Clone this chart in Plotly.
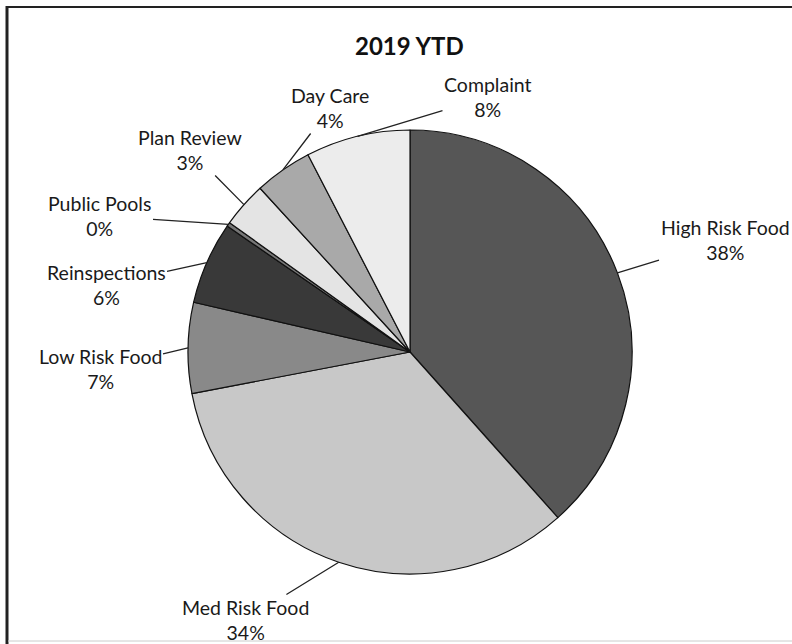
import math
import plotly.graph_objects as go

# ---- data ----
categories = ["High Risk Food", "Med Risk Food", "Low Risk Food", "Reinspections",
              "Public Pools", "Plan Review", "Day Care", "Complaint"]
shares = [38.4, 33.6, 6.6, 6.0, 0.3, 3.3, 4.2, 7.6]
colors = ["#565656", "#c8c8c8", "#898989", "#393939",
          "#777777", "#e4e4e4", "#a9a9a9", "#ececec"]
# label centre positions (pixels) for the outside labels
label_pos = {
    "High Risk Food": (725, 240),
    "Med Risk Food": (245, 620),
    "Low Risk Food": (100, 369),
    "Reinspections": (106, 285),
    "Public Pools": (100, 216),
    "Plan Review": (190, 150),
    "Day Care": (330, 108),
    "Complaint": (488, 97),
}

W, H = 792, 644
CX, CY, R = 410, 352, 222
FONT = "Lato, Open Sans, sans-serif"

fig = go.Figure()
fig.add_trace(go.Pie(
    labels=categories,
    values=shares,
    sort=False,
    direction="clockwise",
    rotation=0,
    marker=dict(colors=colors, line=dict(color="#111111", width=1.2)),
    textinfo="none",
    hoverinfo="label+percent",
    showlegend=False,
    domain=dict(x=[(CX - R) / W, (CX + R) / W], y=[(H - CY - R) / H, (H - CY + R) / H]),
))

total = sum(shares)
cum = 0.0
annotations = []
for cat, v in zip(categories, shares):
    mid = (cum + v / 2) / total * 2 * math.pi
    cum += v
    tx = CX + R * math.sin(mid)
    ty = CY - R * math.cos(mid)
    lx, ly = label_pos[cat]
    pct = round(v / total * 100)
    annotations.append(dict(
        x=tx / W, y=1 - ty / H, xref="paper", yref="paper",
        ax=lx - tx, ay=ly - ty, axref="pixel", ayref="pixel",
        text=f"{cat}<br>{pct}%",
        showarrow=True, arrowhead=0, arrowwidth=1.3, arrowcolor="#222222",
        standoff=0, startstandoff=0,
        font=dict(family=FONT, size=19.5, color="#1a1a1a"),
        align="center",
    ))

annotations.append(dict(
    x=410 / W, y=1 - 46 / H, xref="paper", yref="paper",
    xanchor="center", yanchor="middle",
    text="<b>2019 YTD</b>", showarrow=False,
    font=dict(family=FONT, size=24, color="#111111"),
))

shapes = [
    dict(type="line", xref="paper", yref="paper", x0=8 / W, x1=1, y0=1 - 7 / H, y1=1 - 7 / H,
         line=dict(color="#222222", width=2)),
    dict(type="line", xref="paper", yref="paper", x0=7 / W, x1=7 / W, y0=0, y1=1 - 6 / H,
         line=dict(color="#222222", width=3)),
    dict(type="line", xref="paper", yref="paper", x0=8 / W, x1=1, y0=3 / H, y1=3 / H,
         line=dict(color="#cccccc", width=1)),
]

fig.update_layout(
    width=W, height=H,
    margin=dict(l=0, r=0, t=0, b=0),
    paper_bgcolor="white",
    plot_bgcolor="white",
    annotations=annotations,
    shapes=shapes,
)

fig.write_html("out.html")
